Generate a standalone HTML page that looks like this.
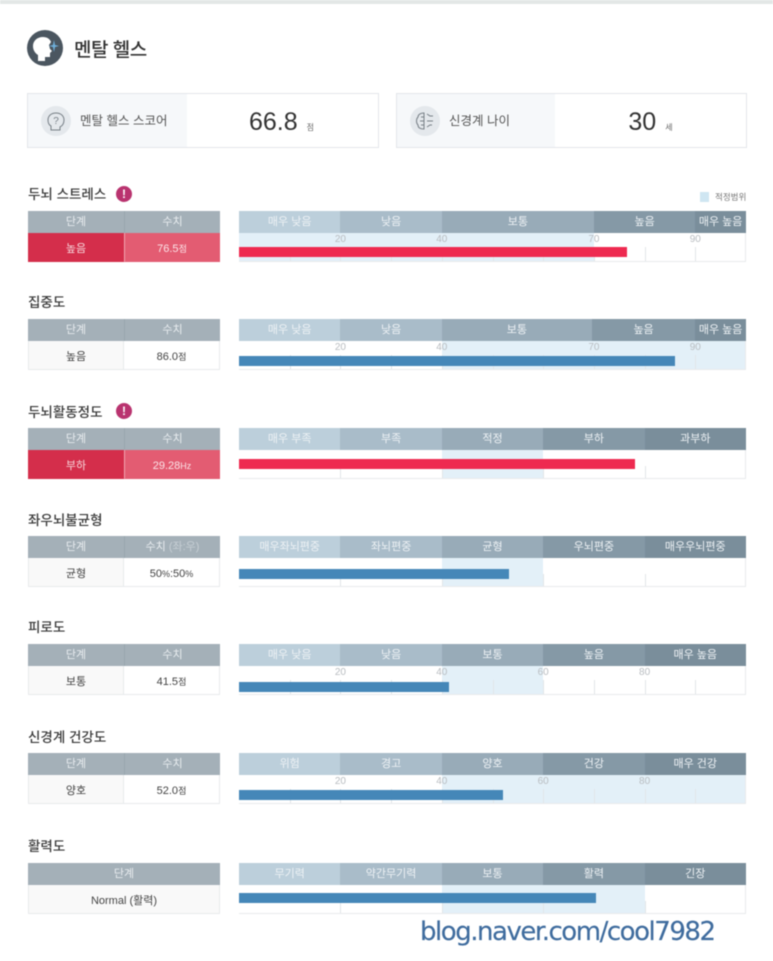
<!DOCTYPE html>
<html lang="ko">
<head>
<meta charset="utf-8">
<title>멘탈 헬스</title>
<style>
html,body{margin:0;padding:0;background:#fff;}
#page{position:relative;width:773px;height:961px;overflow:hidden;background:#fff;font-family:"Liberation Sans","Noto Sans CJK KR",sans-serif;color:#333;filter:blur(.5px);}
#page div,#page span.abs{position:absolute;box-sizing:border-box;}
.top-strip{left:0;top:0;width:773px;height:4px;background:#e3e7e6;}
.page-title{left:74px;top:37px;font-size:19px;line-height:28px;font-weight:500;color:#333;white-space:nowrap;letter-spacing:-.5px;}
.score-box{top:93px;height:55px;border:1px solid #e3e6ea;background:#fff;}
.score-panel{left:0;top:0;height:53px;background:#f6f8fa;}
.score-label{top:18px;font-size:12.5px;line-height:18px;color:#555;white-space:nowrap;}
.score-value{top:12px;font-size:25px;line-height:32px;color:#333;text-align:center;white-space:nowrap;padding-left:17px;}
.score-value small{font-size:8px;color:#666;margin-left:9px;}
.section{left:0;width:773px;height:0;}
.sec-title{left:28px;font-size:13.5px;line-height:20px;top:-26px;color:#3a3a3a;font-weight:500;white-space:nowrap;}
.alert{left:116px;top:-25px;width:16px;height:16px;border-radius:50%;background:#b9336f;color:#fff;font-size:12px;line-height:16px;text-align:center;font-weight:700;}
.th{top:0;height:22px;background:#a4b0b8;color:#e9edf0;font-size:11px;line-height:22px;text-align:center;white-space:nowrap;}
.td{top:22px;height:29px;font-size:11px;line-height:33px;text-align:center;white-space:nowrap;color:#444;border-bottom:1px solid #e8eaec;border-right:1px solid #e8eaec;background:#fff;}
.td small{font-size:9px;}
.td.lv{background:#f9f9f9;border-left:1px solid #e8eaec;}
.td.lv.bad{background:#d42e4b;color:#f6d5da;border-color:#d42e4b;}
.td.val.bad{background:#e35c72;color:#fbe3e7;border-color:#e35c72;border-left:1px solid #f0a5b1;}
.chart{left:239px;top:0;width:507px;height:51px;}
.band{top:0;height:22px;color:#eef2f5;font-size:11px;line-height:23px;text-align:center;white-space:nowrap;}
.plot{left:0;top:22px;width:507px;height:29px;background:#fff;border-bottom:1px solid #e8eaec;border-right:1px solid #e8eaec;overflow:hidden;}
.optimal{top:0;height:29px;background:#e3f0f8;}
.grid{width:1px;background:#e2e5e8;}
.tick-label{top:1px;width:24px;margin-left:-12px;font-size:10px;line-height:12px;color:#b9bdc1;text-align:center;}
.bar{height:10px;left:0;top:var(--bar-top);}
.legend-swatch{left:700px;top:192px;width:9px;height:10px;background:#cfe6f2;}
.legend-text{left:715px;top:190px;font-size:8.5px;line-height:14px;color:#777;white-space:nowrap;}
svg{position:absolute;overflow:visible;}
</style>
</head>
<body>
<div id="page">
  <div class="top-strip"></div>

  <svg style="left:27px;top:30px" width="36" height="36" viewBox="0 0 36 36">
    <circle cx="18" cy="18" r="18" fill="#4b5660"/>
    <path d="M11 31v-6c-3-2-5-5-5-9 0-5 4-9 10-9 4 0 7 2 8 5l-2 3 1 4 2 2-2 2v4h-5v4z" fill="#fff"/>
    <path d="M27 10l1 5 4 1-4 1-1 5-1-5-4-1 4-1z" fill="#6fb0dc"/>
  </svg>
  <div class="page-title">멘탈 헬스</div>

  <div class="score-box" style="left:27px;width:352px">
    <div class="score-panel" style="width:159px"></div>
    <svg style="left:13px;top:12px" width="30" height="30" viewBox="0 0 30 30">
      <circle cx="15" cy="15" r="15" fill="#e4e8ec"/>
      <path d="M10 24v-4c-2-1-3-3-3-6 0-4 3-7 8-7s8 3 8 7-2 6-4 7v3z" fill="none" stroke="#777f86" stroke-width="1"/>
      <text x="15" y="18" font-size="10" text-anchor="middle" fill="#777f86" font-family="Liberation Sans">?</text>
    </svg>
    <div class="score-label" style="left:52px">멘탈 헬스 스코어</div>
    <div class="score-value" style="left:159px;width:172px">66.8<small>점</small></div>
  </div>

  <div class="score-box" style="left:396px;width:351px">
    <div class="score-panel" style="width:158px"></div>
    <svg style="left:13px;top:12px" width="30" height="30" viewBox="0 0 30 30">
      <circle cx="15" cy="15" r="15" fill="#e4e8ec"/>
      <path d="M14 7c-4 0-6 2-6 4-2 2-2 6 0 8 0 3 3 4 6 4zM14 11h-3M14 15h-4M14 19h-3M17 8l3 2h3M17 15h6M17 21l3-2h2" fill="none" stroke="#777f86" stroke-width="1"/>
    </svg>
    <div class="score-label" style="left:52px">신경계 나이</div>
    <div class="score-value" style="left:158px;width:174px">30<small>세</small></div>
  </div>

  <div class="legend-swatch"></div>
  <div class="legend-text">적정범위</div>

  <div class="section" style="top:211px">
    <div class="sec-title">두뇌 스트레스</div>
    <div class="alert">!</div>
    <div class="th" style="left:28px;width:96px">단계</div>
    <div class="th" style="left:124px;width:96px;border-left:1px solid #98a5ae">수치</div>
    <div class="td lv bad" style="left:28px;width:96px">높음</div>
    <div class="td val bad" style="left:124px;width:96px">76.5<small>점</small></div>
    <div class="chart" id="chart-0" style="--bar-top:14px"></div>
  </div>

  <div class="section" style="top:319px">
    <div class="sec-title">집중도</div>
    <div class="th" style="left:28px;width:96px">단계</div>
    <div class="th" style="left:124px;width:96px;border-left:1px solid #98a5ae">수치</div>
    <div class="td lv" style="left:28px;width:96px">높음</div>
    <div class="td val" style="left:124px;width:96px">86.0<small>점</small></div>
    <div class="chart" id="chart-1" style="--bar-top:15px"></div>
  </div>

  <div class="section" style="top:428px">
    <div class="sec-title" style="top:-25px">두뇌활동정도</div>
    <div class="alert">!</div>
    <div class="th" style="left:28px;width:96px">단계</div>
    <div class="th" style="left:124px;width:96px;border-left:1px solid #98a5ae">수치</div>
    <div class="td lv bad" style="left:28px;width:96px">부하</div>
    <div class="td val bad" style="left:124px;width:96px">29.28<small>Hz</small></div>
    <div class="chart" id="chart-2" style="--bar-top:9px"></div>
  </div>

  <div class="section" style="top:536px">
    <div class="sec-title" style="top:-25px">좌우뇌불균형</div>
    <div class="th" style="left:28px;width:96px">단계</div>
    <div class="th" style="left:124px;width:96px;border-left:1px solid #98a5ae">수치 <span style="color:#c6ced4">(좌:우)</span></div>
    <div class="td lv" style="left:28px;width:96px">균형</div>
    <div class="td val" style="left:124px;width:96px">50<small>%</small>:50<small>%</small></div>
    <div class="chart" id="chart-3" style="--bar-top:11px"></div>
  </div>

  <div class="section" style="top:644px">
    <div class="sec-title">피로도</div>
    <div class="th" style="left:28px;width:96px">단계</div>
    <div class="th" style="left:124px;width:96px;border-left:1px solid #98a5ae">수치</div>
    <div class="td lv" style="left:28px;width:96px">보통</div>
    <div class="td val" style="left:124px;width:96px">41.5<small>점</small></div>
    <div class="chart" id="chart-4" style="--bar-top:16px"></div>
  </div>

  <div class="section" style="top:753px">
    <div class="sec-title" style="top:-25px">신경계 건강도</div>
    <div class="th" style="left:28px;width:96px">단계</div>
    <div class="th" style="left:124px;width:96px;border-left:1px solid #98a5ae">수치</div>
    <div class="td lv" style="left:28px;width:96px">양호</div>
    <div class="td val" style="left:124px;width:96px">52.0<small>점</small></div>
    <div class="chart" id="chart-5" style="--bar-top:15px"></div>
  </div>

  <div class="section" style="top:863px">
    <div class="sec-title">활력도</div>
    <div class="th" style="left:28px;width:192px">단계</div>
    <div class="td lv" style="left:28px;width:192px">Normal (활력)</div>
    <div class="chart" id="chart-6" style="--bar-top:8px"></div>
  </div>

  <svg style="left:0;top:0" width="773" height="961">
    <text x="420" y="940" font-size="26" textLength="296" lengthAdjust="spacing" fill="#3f6c9e" stroke="#3f6c9e" stroke-width=".15" font-family="DejaVu Sans, sans-serif">blog.naver.com/cool7982</text>
  </svg>
</div>

<script>
const bandLabels = [
  ['매우 낮음','낮음','보통','높음','매우 높음'],
  ['매우 낮음','낮음','보통','높음','매우 높음'],
  ['매우 부족','부족','적정','부하','과부하'],
  ['매우좌뇌편중','좌뇌편중','균형','우뇌편중','매우우뇌편중'],
  ['매우 낮음','낮음','보통','높음','매우 높음'],
  ['위험','경고','양호','건강','매우 건강'],
  ['무기력','약간무기력','보통','활력','긴장']
];
const bandEdges = [
  [0,20,40,70,90,100],
  [0,20,40,69.6,90,100],
  [0,7.5,15,22.5,30,37.5],
  [0,18.8,37.6,56.4,75.2,94],
  [0,20,40,60,80,100],
  [0,20,40,60,80,100],
  [0,20,40,60,80,100]
];
const optimalLow = [0,40,15,37.6,40,40,40];
const optimalHigh = [70,100,22.5,56.4,60,100,80];
const barValues = [76.5,86.0,29.28,50,41.5,52.0,70.4];
const barAlerts = [true,false,true,false,false,false,false];
const tickLabels = [
  [20,40,70,90],
  [20,40,70,90],
  [],
  [],
  [20,40,60,80],
  [20,40,60,80],
  []
];
const minorTicks = [
  [10,20,30,40,50,60,70,80,90],
  [10,20,30,40,50,60,70,80,90],
  [7.5,15,22.5,30],
  [18.8,37.6,56.4,75.2],
  [10,20,30,40,50,60,70,80,90],
  [10,20,30,40,50,60,70,80,90],
  [20,40,60,80]
];

const CHART_WIDTH = 507;
const PLOT_HEIGHT = 28;
const bandColors = ['#bccfdb','#a9bcc9','#98abb8','#8599a6','#7a8e9b'];

function xScale(chartIndex, value) {
  const edges = bandEdges[chartIndex];
  return (value - edges[0]) / (edges[edges.length - 1] - edges[0]) * CHART_WIDTH;
}

function drawChart(i) {
  const chart = document.getElementById('chart-' + i);
  const edges = bandEdges[i];
  const hasLabels = tickLabels[i].length > 0;

  bandLabels[i].forEach(function (label, b) {
    const band = document.createElement('div');
    
    
    band.className = 'band';
    const x0 = xScale(i, edges[b]);
    const x1 = xScale(i, edges[b + 1]);
    band.style.left = x0 + 'px';
    band.style.width = (x1 - x0) + 'px';
    band.style.background = bandColors[b];
    band.textContent = label;
    chart.appendChild(band);
  });

  const plot = document.createElement('div');
  
  
  plot.className = 'plot';
  chart.appendChild(plot);

  const optimal = document.createElement('div');
  
  
  optimal.className = 'optimal';
  optimal.style.left = xScale(i, optimalLow[i]) + 'px';
  optimal.style.width = (xScale(i, optimalHigh[i]) - xScale(i, optimalLow[i])) + 'px';
  plot.appendChild(optimal);

  minorTicks[i].forEach(function (t) {
    const grid = document.createElement('div');
    
    
    grid.className = 'grid';
    const h = hasLabels ? 14 : 12;
    grid.style.left = xScale(i, t) + 'px';
    grid.style.top = (PLOT_HEIGHT - h) + 'px';
    grid.style.height = h + 'px';
    plot.appendChild(grid);
  });

  tickLabels[i].forEach(function (t) {
    const lab = document.createElement('div');
    
    
    lab.className = 'tick-label';
    lab.style.left = xScale(i, t) + 'px';
    lab.textContent = t;
    plot.appendChild(lab);
  });

  const bar = document.createElement('div');
  
  
  bar.className = 'bar';
  bar.style.width = xScale(i, barValues[i]) + 'px';
  bar.style.background = barAlerts[i] ? '#ee2a50' : '#4587b8';
  plot.appendChild(bar);
}

for (let i = 0; i < bandLabels.length; i++) {
  drawChart(i);
}
</script>
</body>
</html>
